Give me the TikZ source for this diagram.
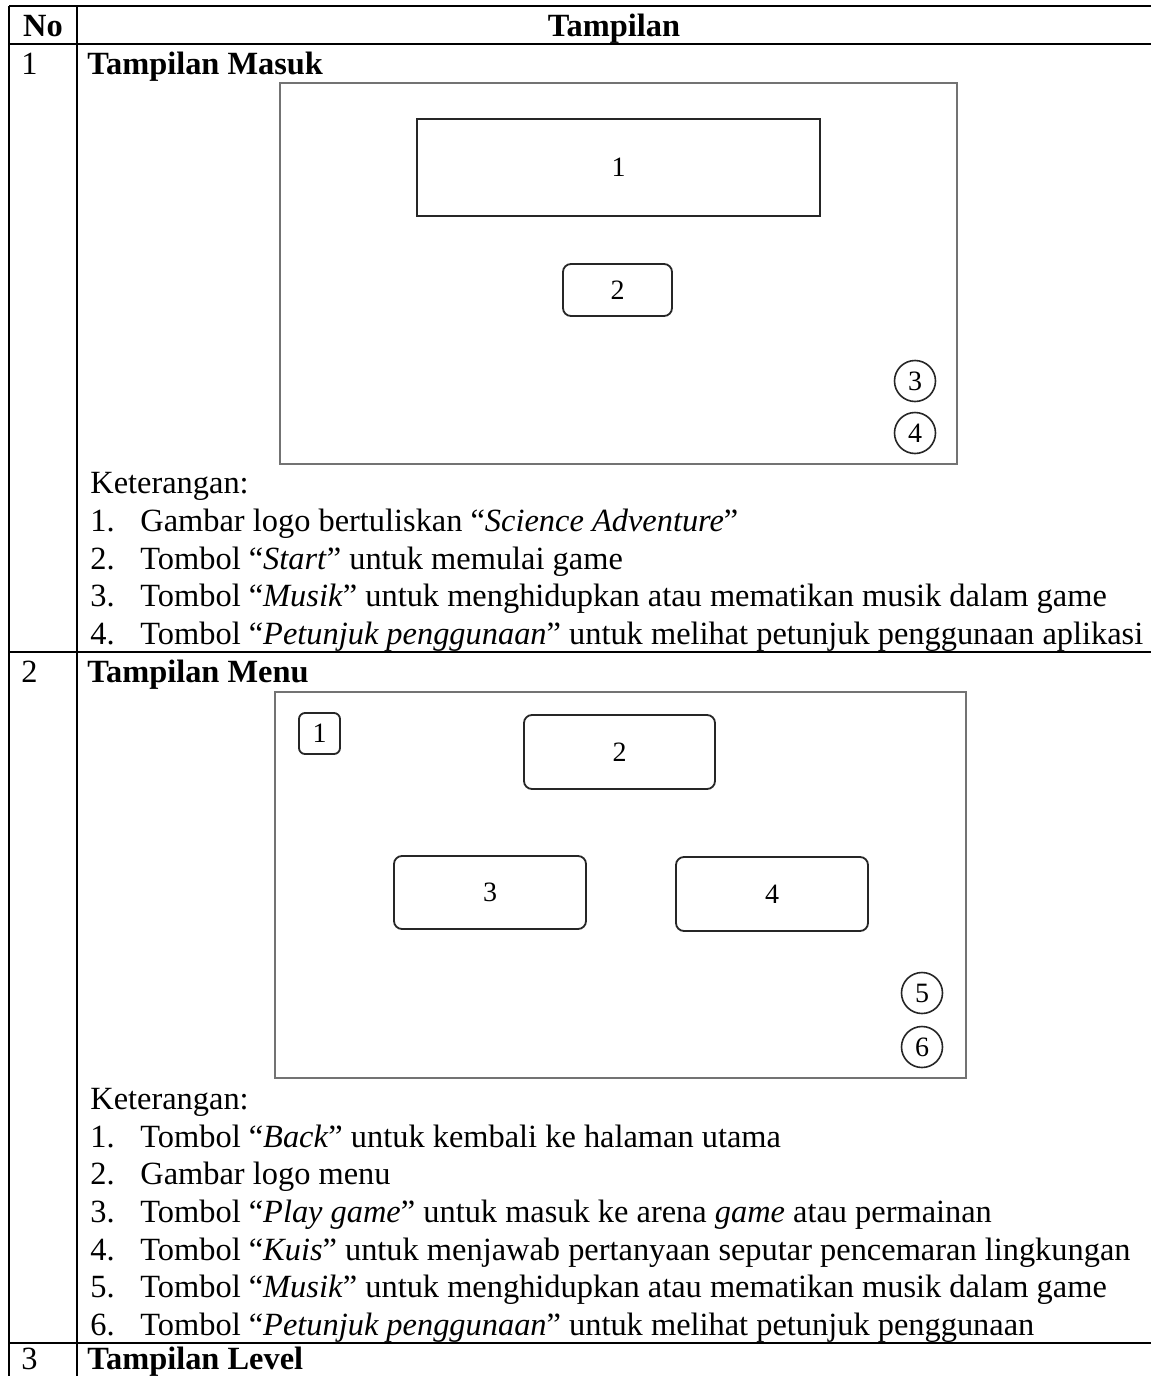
\documentclass[tikz,border=0pt]{standalone}
\usepackage{fontspec}
\setmainfont{Liberation Serif}
\begin{document}
\begin{tikzpicture}[x=0.5pt,y=-0.5pt,
  tline/.style={line width=1pt,black},
  frame/.style={draw=black!55,line width=0.7pt,inner sep=0pt},
  box/.style={draw=black!85,line width=0.9pt,inner sep=0pt,font=\fontsize{14}{16}\selectfont},
  rbox/.style={box,rounded corners=4pt},
  circ/.style={draw=black!85,line width=0.8pt,circle,minimum size=20.5pt,inner sep=0pt,font=\fontsize{14}{16}\selectfont},
  txt/.style={anchor=base west,inner sep=0pt,font=\fontsize{16.2}{19}\selectfont},
  hd/.style={anchor=base,inner sep=0pt,font=\fontsize{16.2}{19}\selectfont\bfseries}]
\useasboundingbox (0,0) rectangle (1151,1376);
\fill[white] (0,0) rectangle (1151,1376);
% table rules
\draw[tline] (9,6) -- (1151,6);
\draw[tline] (9,44) -- (1151,44);
\draw[tline] (9,652) -- (1151,652);
\draw[tline] (9,1343) -- (1151,1343);
\draw[tline] (9,6) -- (9,1376);
\draw[tline] (77,6) -- (77,1376);
% header
\node[hd] (hno) at (43,36) {No};
\node[hd] (htp) at (614,36) {Tampilan};
% row 1
\node[txt] (n1) at (21,74) {1};
\node[txt,font=\fontsize{16.2}{19}\selectfont\bfseries] (t1) at (87,74) {Tampilan Masuk};
\node[frame,minimum width=338.5pt,minimum height=190.5pt] (f1) at (618.5,273.5) {};
\node[box,minimum width=201.5pt,minimum height=48.5pt] (m1) at (618.5,167.5) {1};
\node[rbox,minimum width=54.5pt,minimum height=26pt] (m2) at (617.5,290) {2};
\node[circ] (m3) at (915,381) {3};
\node[circ] (m4) at (915,433) {4};
\node[txt] (k1) at (90,493) {Keterangan:};
\node[txt] (a1n) at (90,531) {1.};
\node[txt] (a1) at (140,531) {Gambar logo bertuliskan “\textit{Science Adventure}”};
\node[txt] (a2n) at (90,569) {2.};
\node[txt] (a2) at (140,569) {Tombol “\textit{Start}” untuk memulai game};
\node[txt] (a3n) at (90,606) {3.};
\node[txt] (a3) at (140,606) {Tombol “\textit{Musik}” untuk menghidupkan atau mematikan musik dalam game};
\node[txt] (a4n) at (90,644) {4.};
\node[txt] (a4) at (140,644) {Tombol “\textit{Petunjuk penggunaan}” untuk melihat petunjuk penggunaan aplikasi};
% row 2
\node[txt] (n2) at (21,682) {2};
\node[txt,font=\fontsize{16.2}{19}\selectfont\bfseries] (t2) at (87,682) {Tampilan Menu};
\node[frame,minimum width=345.5pt,minimum height=193pt] (f2) at (620.5,885) {};
\node[box,rounded corners=3pt,minimum width=20.5pt,minimum height=20.5pt] (b1) at (319.5,733.5) {1};
\node[rbox,minimum width=95.5pt,minimum height=37pt] (b2) at (619.5,752) {2};
\node[rbox,minimum width=96pt,minimum height=36.5pt] (b3) at (490,892.5) {3};
\node[rbox,minimum width=96pt,minimum height=37pt] (b4) at (772,894) {4};
\node[circ] (b5) at (922,993) {5};
\node[circ] (b6) at (922,1047) {6};
\node[txt] (k2) at (90,1109) {Keterangan:};
\node[txt] (c1n) at (90,1147) {1.};
\node[txt] (c1) at (140,1147) {Tombol “\textit{Back}” untuk kembali ke halaman utama};
\node[txt] (c2n) at (90,1184) {2.};
\node[txt] (c2) at (140,1184) {Gambar logo menu};
\node[txt] (c3n) at (90,1222) {3.};
\node[txt] (c3) at (140,1222) {Tombol “\textit{Play game}” untuk masuk ke arena \textit{game} atau permainan};
\node[txt] (c4n) at (90,1260) {4.};
\node[txt] (c4) at (140,1260) {Tombol “\textit{Kuis}” untuk menjawab pertanyaan seputar pencemaran lingkungan};
\node[txt] (c5n) at (90,1297) {5.};
\node[txt] (c5) at (140,1297) {Tombol “\textit{Musik}” untuk menghidupkan atau mematikan musik dalam game};
\node[txt] (c6n) at (90,1335) {6.};
\node[txt] (c6) at (140,1335) {Tombol “\textit{Petunjuk penggunaan}” untuk melihat petunjuk penggunaan};
% row 3
\node[txt] (n3) at (21,1369) {3};
\node[txt,font=\fontsize{16.2}{19}\selectfont\bfseries] (t3) at (87,1369) {Tampilan Level};
\end{tikzpicture}
\end{document}
